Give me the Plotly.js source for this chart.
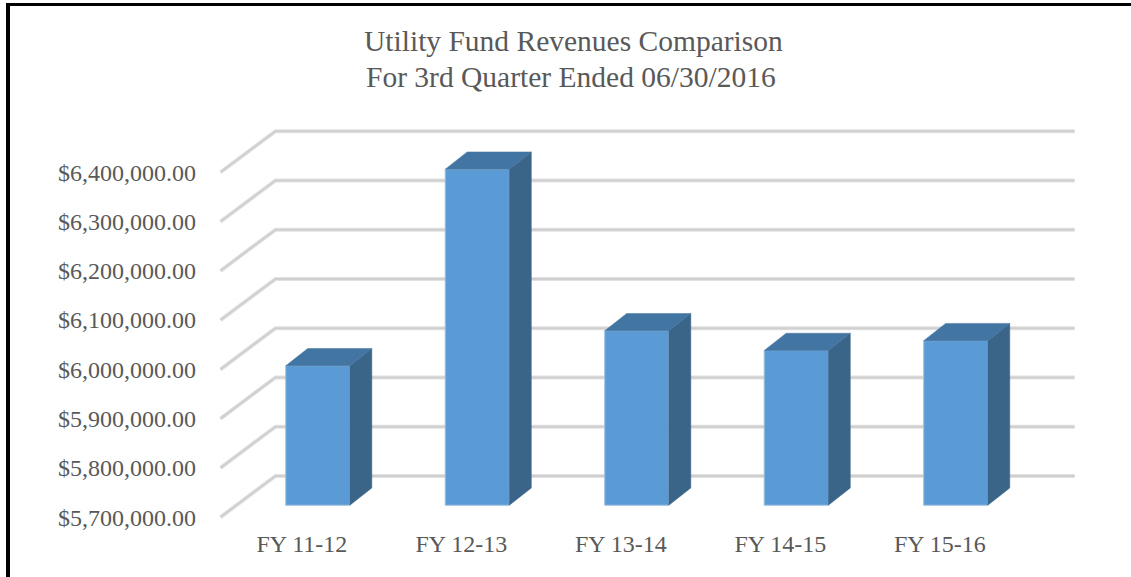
<!DOCTYPE html>
<html>
<head>
<meta charset="utf-8">
<script src="https://cdn.plot.ly/plotly-3.0.1.min.js"></script>
<style>
html,body{margin:0;padding:0;background:#fff;overflow:hidden}
#frame{position:absolute;left:6px;top:3px;width:1125px;height:574px;box-sizing:border-box;border-left:4px solid #000;border-top:3px solid #000}
#chart{position:absolute;left:0;top:0;width:1131px;height:577px}
</style>
</head>
<body>
<div id="frame"></div>
<div id="chart"></div>
<script>
const categories = ["FY 11-12", "FY 12-13", "FY 13-14", "FY 14-15", "FY 15-16"];
const revenues = [5983000, 6382000, 6054000, 6014000, 6034000];
const tickValues = [5700000, 5800000, 5900000, 6000000, 6100000, 6200000, 6300000, 6400000];

// depth projection of the pseudo-3D chart, in axis units
const depthX = 0.345, depthY = 83500;
const barWidth = 0.402, frontDepth = 0.29, backDepth = 0.71;
const baseValue = tickValues[0];
const positions = categories.map((_, i) => i);

const px = (x, d) => x + d * depthX;
const py = (v, d) => v + d * depthY;

const front = {
  type: 'bar',
  x: positions.map(i => px(i, frontDepth)),
  y: revenues.map(v => v - baseValue),
  base: revenues.map(() => py(baseValue, frontDepth)),
  width: barWidth,
  marker: {color: '#5b9bd5', line: {color: '#9dbfe0', width: 1}},
  hoverinfo: 'skip', showlegend: false
};
const poly = (xs, ys, color) => ({
  type: 'scatter', mode: 'lines', x: xs, y: ys, fill: 'toself', fillcolor: color,
  line: {color: color, width: 0.5}, hoverinfo: 'skip', showlegend: false, cliponaxis: false
});
const faces = [];
revenues.forEach((v, i) => {
  const l = px(i, frontDepth) - barWidth / 2, r = l + barWidth;
  const shift = (backDepth - frontDepth) * depthX * 0.95;
  // right side face
  faces.push(poly([r, r + shift, r + shift, r, r],
    [py(baseValue, frontDepth), py(baseValue, backDepth), py(v, backDepth), py(v, frontDepth), py(baseValue, frontDepth)], '#3a6488'));
  // top face
  faces.push(poly([l, l + shift, r + shift, r, l],
    [py(v, frontDepth), py(v, backDepth), py(v, backDepth), py(v, frontDepth), py(v, frontDepth)], '#4375a2'));
});

const xLeft = -0.51, xRight = 4.5;
const grid = [];
tickValues.forEach(v => {
  const path = `M${xLeft},${v} L${px(xLeft, 1)},${py(v, 1)} L${px(xRight, 1)},${py(v, 1)}`;
  grid.push({type: 'path', xref: 'x', yref: 'y', path, layer: 'below', line: {color: '#e2e2e2', width: 4}});
  grid.push({type: 'path', xref: 'x', yref: 'y', path, layer: 'below', line: {color: '#cfcfcf', width: 2}});
});

const layout = {
  width: 1131, height: 577,
  paper_bgcolor: 'rgba(0,0,0,0)', plot_bgcolor: 'rgba(0,0,0,0)',
  margin: {l: 217, r: 51, t: 122.7, b: 50, pad: 0},
  showlegend: false,
  title: {
    text: 'Utility Fund Revenues Comparison',
    font: {family: '"Liberation Serif", serif', size: 29.5, color: '#595959'},
    x: 0.413, xanchor: 'center', xref: 'paper', y: 0.911, yanchor: 'bottom'
  },
  annotations: [{
    text: 'For 3rd Quarter Ended 06/30/2016', xref: 'paper', yref: 'paper',
    x: 0.41, y: 1.0, xanchor: 'center', yanchor: 'bottom', yshift: 28, showarrow: false,
    font: {family: '"Liberation Serif", serif', size: 29.5, color: '#595959'}
  }],
  font: {family: '"Liberation Serif", serif', color: '#595959', size: 24},
  xaxis: {
    type: 'linear', range: [-0.532, 4.879], tickmode: 'array', tickvals: positions, ticktext: categories,
    showgrid: false, zeroline: false, showline: false, ticks: '', fixedrange: true,
    tickfont: {family: '"Liberation Serif", serif', size: 24, color: '#595959'}, ticklabelstandoff: 0
  },
  yaxis: {
    type: 'linear', range: [5680000, 6500000], tickmode: 'array', tickvals: tickValues,
    tickformat: '$,.2f', showgrid: false, zeroline: false, showline: false, ticks: '', fixedrange: true,
    tickfont: {family: '"Liberation Serif", serif', size: 24, color: '#595959'}, ticklabelstandoff: 20
  },
  shapes: grid,
  bargap: 0
};
Plotly.newPlot('chart', [front, ...faces], layout, {displayModeBar: false, staticPlot: true});
</script>
</body>
</html>
